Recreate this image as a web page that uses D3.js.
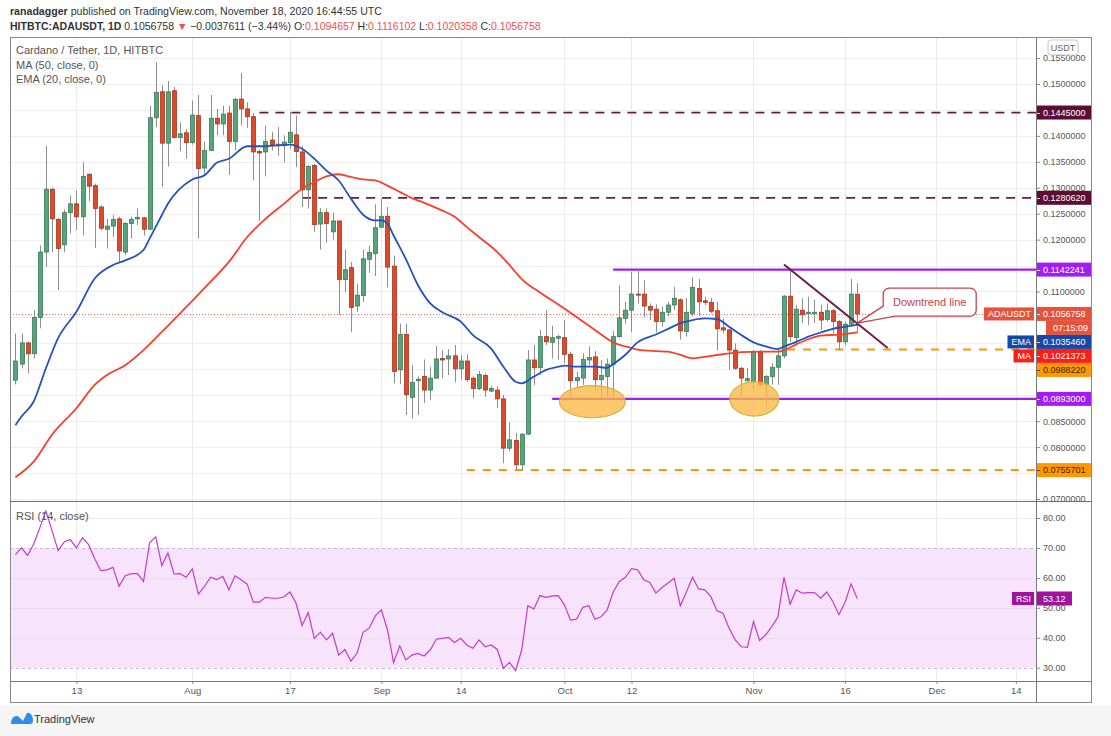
<!DOCTYPE html>
<html>
<head>
<meta charset="utf-8">
<script src="https://cdnjs.cloudflare.com/ajax/libs/d3/7.8.5/d3.min.js"></script>
<style>
body { margin: 0; background: #fff; }
text { font-family: "Liberation Sans", Arial, sans-serif; }
</style>
</head>
<body>
<div class="chart"></div>
<script>
// ---- data ----
var firstDay = '2020-07-03';

// daily candles [open, high, low, close], Jul 3 .. Nov 18 2020
var ohlc = [
    [0.0929, 0.1019, 0.0921, 0.0966], [0.0960, 0.1019, 0.0952, 0.1001], [0.1001, 0.1003, 0.0942, 0.0980],
    [0.0980, 0.1064, 0.0971, 0.1050], [0.1050, 0.1189, 0.1029, 0.1176], [0.1176, 0.1381, 0.1147, 0.1297],
    [0.1297, 0.1300, 0.1176, 0.1240], [0.1239, 0.1242, 0.1103, 0.1183], [0.1190, 0.1258, 0.1176, 0.1252],
    [0.1252, 0.1285, 0.1212, 0.1269], [0.1269, 0.1295, 0.1218, 0.1244], [0.1244, 0.1349, 0.1208, 0.1322],
    [0.1326, 0.1328, 0.1274, 0.1303], [0.1304, 0.1308, 0.1184, 0.1260], [0.1263, 0.1266, 0.1218, 0.1222],
    [0.1220, 0.1240, 0.1183, 0.1226], [0.1226, 0.1247, 0.1205, 0.1239], [0.1240, 0.1244, 0.1157, 0.1178],
    [0.1176, 0.1234, 0.1170, 0.1231], [0.1231, 0.1244, 0.1202, 0.1239], [0.1240, 0.1260, 0.1228, 0.1243],
    [0.1242, 0.1244, 0.1208, 0.1220], [0.1220, 0.1458, 0.1218, 0.1435], [0.1435, 0.1542, 0.1417, 0.1484],
    [0.1485, 0.1498, 0.1301, 0.1386], [0.1386, 0.1506, 0.1341, 0.1485], [0.1487, 0.1494, 0.1395, 0.1397],
    [0.1397, 0.1426, 0.1371, 0.1404], [0.1406, 0.1413, 0.1356, 0.1387],
    // Aug
    [0.1387, 0.1468, 0.1383, 0.1440], [0.1439, 0.1479, 0.1202, 0.1337], [0.1338, 0.1389, 0.1322, 0.1372],
    [0.1372, 0.1479, 0.1371, 0.1434], [0.1434, 0.1452, 0.1401, 0.1423], [0.1423, 0.1458, 0.1401, 0.1442],
    [0.1444, 0.1458, 0.1325, 0.1389], [0.1389, 0.1474, 0.1372, 0.1470], [0.1471, 0.1521, 0.1420, 0.1452],
    [0.1452, 0.1465, 0.1415, 0.1437], [0.1437, 0.1444, 0.1314, 0.1369], [0.1370, 0.1373, 0.1236, 0.1367],
    [0.1369, 0.1420, 0.1322, 0.1389], [0.1392, 0.1408, 0.1372, 0.1383], [0.1381, 0.1417, 0.1362, 0.1384],
    [0.1381, 0.1401, 0.1349, 0.1388], [0.1387, 0.1446, 0.1375, 0.1407], [0.1402, 0.1439, 0.1340, 0.1370],
    [0.1369, 0.1381, 0.1263, 0.1296], [0.1296, 0.1344, 0.1260, 0.1341], [0.1343, 0.1346, 0.1215, 0.1229],
    [0.1230, 0.1261, 0.1181, 0.1252], [0.1252, 0.1260, 0.1194, 0.1231], [0.1215, 0.1252, 0.1200, 0.1236],
    [0.1236, 0.1237, 0.1055, 0.1123], [0.1123, 0.1181, 0.1099, 0.1142], [0.1146, 0.1157, 0.1022, 0.1069],
    [0.1072, 0.1115, 0.1061, 0.1093], [0.1092, 0.1181, 0.1080, 0.1163], [0.1162, 0.1188, 0.1136, 0.1175],
    [0.1173, 0.1268, 0.1130, 0.1223],
    // Sep
    [0.1224, 0.1279, 0.1222, 0.1245], [0.1245, 0.1263, 0.1108, 0.1147], [0.1149, 0.1169, 0.0923, 0.0946],
    [0.0949, 0.1038, 0.0921, 0.1017], [0.1017, 0.1038, 0.0862, 0.0901], [0.0896, 0.0958, 0.0855, 0.0925],
    [0.0928, 0.0936, 0.0862, 0.0931], [0.0936, 0.0969, 0.0885, 0.0910], [0.0910, 0.0955, 0.0891, 0.0933],
    [0.0933, 0.0995, 0.0932, 0.0970], [0.0971, 0.0987, 0.0933, 0.0968], [0.0970, 0.0989, 0.0939, 0.0976],
    [0.0976, 0.0997, 0.0925, 0.0951], [0.0951, 0.0978, 0.0930, 0.0966], [0.0966, 0.0979, 0.0926, 0.0930],
    [0.0933, 0.0936, 0.0894, 0.0913], [0.0913, 0.0947, 0.0910, 0.0940], [0.0938, 0.0942, 0.0897, 0.0910],
    [0.0908, 0.0918, 0.0906, 0.0913], [0.0910, 0.0917, 0.0875, 0.0893], [0.0893, 0.0901, 0.0769, 0.0798],
    [0.0798, 0.0848, 0.0792, 0.0814], [0.0813, 0.0827, 0.0756, 0.0766], [0.0766, 0.0827, 0.0755, 0.0825],
    [0.0825, 0.0987, 0.0824, 0.0968], [0.0968, 0.0997, 0.0920, 0.0953], [0.0953, 0.1026, 0.0939, 0.1013],
    [0.1013, 0.1064, 0.0997, 0.1003], [0.1002, 0.1034, 0.0971, 0.1011], [0.1010, 0.1017, 0.0968, 0.1013],
    // Oct
    [0.1011, 0.1045, 0.0962, 0.0979], [0.0979, 0.0984, 0.0897, 0.0928], [0.0928, 0.0945, 0.0913, 0.0934],
    [0.0933, 0.0981, 0.0920, 0.0969], [0.0968, 0.0994, 0.0958, 0.0973], [0.0974, 0.0985, 0.0910, 0.0930],
    [0.0930, 0.0968, 0.0894, 0.0938], [0.0936, 0.0971, 0.0897, 0.0960], [0.0960, 0.1024, 0.0894, 0.1013],
    [0.1013, 0.1112, 0.1011, 0.1049], [0.1048, 0.1080, 0.1038, 0.1064], [0.1064, 0.1138, 0.1022, 0.1095],
    [0.1095, 0.1141, 0.1077, 0.1093], [0.1095, 0.1122, 0.1051, 0.1072], [0.1071, 0.1077, 0.1045, 0.1064],
    [0.1066, 0.1075, 0.1021, 0.1042], [0.1042, 0.1071, 0.1032, 0.1060], [0.1060, 0.1080, 0.1052, 0.1074],
    [0.1074, 0.1109, 0.1064, 0.1087], [0.1084, 0.1087, 0.1007, 0.1024], [0.1023, 0.1087, 0.1013, 0.1060],
    [0.1058, 0.1127, 0.1052, 0.1108], [0.1106, 0.1124, 0.1053, 0.1080], [0.1082, 0.1090, 0.1074, 0.1079],
    [0.1079, 0.1088, 0.1058, 0.1062], [0.1063, 0.1080, 0.0987, 0.1028], [0.1030, 0.1048, 0.1019, 0.1026],
    [0.1026, 0.1028, 0.0949, 0.0987], [0.0987, 0.1000, 0.0949, 0.0952], [0.0952, 0.0955, 0.0891, 0.0933],
    [0.0928, 0.0953, 0.0923, 0.0932],
    // Nov
    [0.0926, 0.0987, 0.0913, 0.0983], [0.0983, 0.0987, 0.0917, 0.0921], [0.0921, 0.0939, 0.0880, 0.0936],
    [0.0936, 0.0962, 0.0920, 0.0954], [0.0954, 0.0987, 0.0920, 0.0976], [0.0976, 0.1093, 0.0971, 0.1091],
    [0.1091, 0.1141, 0.1003, 0.1013], [0.1011, 0.1074, 0.0997, 0.1066], [0.1064, 0.1087, 0.1039, 0.1055],
    [0.1057, 0.1090, 0.1035, 0.1060], [0.1057, 0.1084, 0.1039, 0.1060], [0.1060, 0.1074, 0.1026, 0.1045],
    [0.1046, 0.1077, 0.1042, 0.1063], [0.1063, 0.1066, 0.1019, 0.1042], [0.1042, 0.1045, 0.0987, 0.1003],
    [0.1003, 0.1042, 0.0996, 0.1037], [0.1037, 0.1124, 0.1032, 0.1095],
    [0.1094657, 0.1116102, 0.1020358, 0.1056758]
];

// RSI(14) per day, same days as the candles
var rsi = [
    67.8, 70.0, 67.5, 71.3, 76.7, 82.3, 75.8, 69.1, 72.0, 72.8,
    70.0, 73.4, 71.1, 66.4, 62.4, 62.7, 63.5, 57.2, 60.7, 61.4,
    61.4, 58.8, 71.7, 73.7, 64.1, 68.3, 61.3, 61.4, 60.2, 63.0,
    54.6, 57.2, 60.2, 59.4, 60.5, 56.0, 60.7, 59.4, 57.9, 51.9,
    51.9, 53.5, 53.2, 53.2, 53.6, 55.3, 51.6, 44.1, 48.4, 39.8,
    41.8, 39.3, 41.5, 34.2, 36.1, 32.2, 34.8, 41.8, 43.2, 47.3,
    49.3, 42.6, 31.7, 37.3, 32.6, 34.2, 34.8, 33.9, 35.9, 39.5,
    39.8, 40.1, 38.4, 39.8, 37.6, 36.5, 39.3, 37.0, 37.6, 36.1,
    29.8, 31.8, 29.0, 35.9, 50.7, 49.6, 54.1, 53.5, 54.0, 54.1,
    51.0, 45.9, 46.2, 50.1, 50.7, 46.2, 47.0, 49.3, 55.3, 58.8,
    60.2, 63.1, 62.7, 59.4, 58.5, 54.9, 56.8, 58.3, 59.9, 50.7,
    55.3, 60.2, 56.3, 56.0, 53.8, 49.0, 48.2, 43.2, 39.3, 37.0,
    36.8, 45.4, 39.1, 41.0, 43.7, 46.9, 60.2, 51.2, 56.0, 54.9,
    55.1, 55.1, 53.2, 55.3, 52.1, 47.7, 51.8, 58.0, 53.12
];

// EMA(20) and MA(50) read at sample days
var emaPts = [
    ['2020-07-03', 0.0842], ['2020-07-04', 0.0859], ['2020-07-06', 0.0888], ['2020-07-08', 0.0952],
    ['2020-07-10', 0.1010], ['2020-07-13', 0.1061], ['2020-07-16', 0.1125], ['2020-07-19', 0.1151],
    ['2020-07-21', 0.1160], ['2020-07-24', 0.1180], ['2020-07-25', 0.1202], ['2020-07-27', 0.1247],
    ['2020-07-28', 0.1269], ['2020-08-01', 0.1316], ['2020-08-03', 0.1324], ['2020-08-05', 0.1348],
    ['2020-08-07', 0.1356], ['2020-08-10', 0.1380], ['2020-08-13', 0.1380], ['2020-08-17', 0.1383],
    ['2020-08-19', 0.1375], ['2020-08-21', 0.1356], ['2020-08-23', 0.1333], ['2020-08-25', 0.1314],
    ['2020-08-27', 0.1279], ['2020-08-29', 0.1248], ['2020-08-31', 0.1237], ['2020-09-01', 0.1237],
    ['2020-09-02', 0.1231], ['2020-09-03', 0.1208], ['2020-09-05', 0.1163], ['2020-09-07', 0.1112],
    ['2020-09-09', 0.1077], ['2020-09-11', 0.1060], ['2020-09-14', 0.1042], ['2020-09-16', 0.1016],
    ['2020-09-19', 0.0990], ['2020-09-21', 0.0955], ['2020-09-23', 0.0926], ['2020-09-24', 0.0923],
    ['2020-09-26', 0.0936], ['2020-09-28', 0.0949], ['2020-09-30', 0.0955], ['2020-10-01', 0.0957],
    ['2020-10-03', 0.0955], ['2020-10-06', 0.0955], ['2020-10-08', 0.0953], ['2020-10-09', 0.0960],
    ['2020-10-11', 0.0978], ['2020-10-13', 0.1002], ['2020-10-16', 0.1017], ['2020-10-18', 0.1028],
    ['2020-10-20', 0.1039], ['2020-10-22', 0.1045], ['2020-10-24', 0.1048], ['2020-10-26', 0.1047],
    ['2020-10-28', 0.1032], ['2020-10-30', 0.1016], ['2020-11-01', 0.1002], ['2020-11-03', 0.0994],
    ['2020-11-05', 0.0989], ['2020-11-06', 0.0994], ['2020-11-08', 0.1003], ['2020-11-10', 0.1013],
    ['2020-11-12', 0.1021], ['2020-11-14', 0.1028], ['2020-11-16', 0.1032], ['2020-11-18', 0.1035460]
];
var maPts = [
    ['2020-07-03', 0.0742], ['2020-07-06', 0.0772], ['2020-07-09', 0.0824], ['2020-07-13', 0.0875],
    ['2020-07-16', 0.0920], ['2020-07-18', 0.0939], ['2020-07-21', 0.0958], ['2020-07-24', 0.0987],
    ['2020-07-27', 0.1022], ['2020-07-30', 0.1058], ['2020-08-01', 0.1082], ['2020-08-04', 0.1119],
    ['2020-08-07', 0.1157], ['2020-08-10', 0.1205], ['2020-08-13', 0.1240], ['2020-08-16', 0.1269],
    ['2020-08-19', 0.1298], ['2020-08-21', 0.1311], ['2020-08-23', 0.1322], ['2020-08-25', 0.1326],
    ['2020-08-27', 0.1321], ['2020-08-29', 0.1316], ['2020-08-31', 0.1314], ['2020-09-02', 0.1304],
    ['2020-09-04', 0.1292], ['2020-09-06', 0.1280], ['2020-09-08', 0.1271], ['2020-09-11', 0.1256],
    ['2020-09-13', 0.1244], ['2020-09-15', 0.1224], ['2020-09-17', 0.1205], ['2020-09-20', 0.1176],
    ['2020-09-22', 0.1151], ['2020-09-24', 0.1124], ['2020-09-27', 0.1098], ['2020-09-30', 0.1075],
    ['2020-10-03', 0.1051], ['2020-10-06', 0.1026], ['2020-10-09', 0.1002], ['2020-10-11', 0.0994],
    ['2020-10-13', 0.0988], ['2020-10-16', 0.0985], ['2020-10-18', 0.0984], ['2020-10-20', 0.0978],
    ['2020-10-22', 0.0971], ['2020-10-24', 0.0974], ['2020-10-27', 0.0979], ['2020-10-30', 0.0983],
    ['2020-11-02', 0.0984], ['2020-11-05', 0.0984], ['2020-11-06', 0.0987], ['2020-11-08', 0.0998],
    ['2020-11-10', 0.1008], ['2020-11-12', 0.1015], ['2020-11-15', 0.1017], ['2020-11-18', 0.1021373]
];

// horizontal levels drawn on the chart and the day each one starts
var levelPrices = [0.1445, 0.1280620, 0.1142241, 0.0893, 0.0988220, 0.0755701];
var levelFrom = ['2020-08-12', '2020-08-19', '2020-10-09', '2020-09-29', '2020-11-06T12:00Z', '2020-09-15'];

// downtrend line end points, ellipse marks [centre day, centre price, half days, half price]
var trendPts = [['2020-11-06', 0.1152], ['2020-11-23', 0.0991]];
var ellipses = [['2020-10-05T14:00Z', 0.08876, 5.4, 0.0031], ['2020-11-01T03:00Z', 0.08928, 4.0, 0.0033]];
var calloutAt = ['2020-11-18', 0.1039];
var calloutText = 'Downtrend line';

// axis ticks
var priceTicks = [0.070, 0.075, 0.080, 0.085, 0.090, 0.095, 0.100, 0.105, 0.110, 0.115,
    0.120, 0.125, 0.130, 0.135, 0.140, 0.145, 0.150, 0.155];
var rsiTicks = [30, 40, 50, 60, 70, 80];
var timeTicks = ['2020-07-13', '2020-08-01', '2020-08-17', '2020-09-01', '2020-09-14', '2020-10-01',
    '2020-10-12', '2020-11-01', '2020-11-16', '2020-12-01', '2020-12-14'];
var timeLabels = ['13', 'Aug', '17', 'Sep', '14', 'Oct', '12', 'Nov', '16', 'Dec', '14'];

var lastPrice = 0.1056758, emaLast = 0.1035460, maLast = 0.1021373;

// ---- layout ----
var W = 1111, H = 736;
var L = 10, R = 1036, FR = 1092, T = 37, PB = 501, RB = 681, FB = 703;

var svg = d3.select('.chart')
    .append('svg')
    .attr('width', W)
    .attr('height', H)
    .style('display', 'block');

svg.append('rect').attr('width', W).attr('height', H).attr('fill', '#fff');
svg.append('rect').attr('x', 0).attr('y', 705).attr('width', W).attr('height', H - 705).attr('fill', '#f5f5f5');

var parse = s => new Date(s.length > 10 ? s : s + 'T00:00:00Z');
var days = d3.utcDay.range(parse(firstDay), d3.utcDay.offset(parse(firstDay), ohlc.length));
var bars = ohlc.map((r, i) => ({date: days[i], o: r[0], h: r[1], l: r[2], c: r[3], rsi: rsi[i]}));

var x = d3.scaleUtc()
    .domain([Date.UTC(2020, 6, 2, 2, 45), Date.UTC(2020, 11, 17, 7, 30)])
    .range([L, R]);
var y = d3.scaleLinear().domain([0.069614, 0.15906]).range([PB, T]);
var yr = d3.scaleLinear().domain([25.56, 85.68]).range([RB, PB]);

var defs = svg.append('defs');
defs.append('clipPath').attr('id', 'pricePane')
    .append('rect').attr('x', L).attr('y', T).attr('width', R - L).attr('height', PB - T);
defs.append('clipPath').attr('id', 'priceAxis')
    .append('rect').attr('x', R).attr('y', T).attr('width', FR - R).attr('height', PB - T);
defs.append('clipPath').attr('id', 'rsiPane')
    .append('rect').attr('x', L).attr('y', PB).attr('width', R - L).attr('height', RB - PB);

// header
var head1 = svg.append('text').attr('x', 10).attr('y', 15).attr('font-size', 10.6).attr('fill', '#333');
head1.append('tspan').attr('font-weight', 'bold').text('ranadagger');
head1.append('tspan').text(' published on TradingView.com, November 18, 2020 16:44:55 UTC');

var red = '#f0514e';
var head2 = svg.append('text').attr('x', 10).attr('y', 30).attr('font-size', 10.5).attr('fill', '#333');
[['HITBTC:ADAUSDT, 1D', '#333', 'bold'], [' 0.1056758 ', '#333'], ['\u25BC', red],
    [' \u22120.0037611 (\u22123.44%) O:', '#333'], ['0.1094657', red], [' H:', '#333'], ['0.1116102', red],
    [' L:', '#333'], ['0.1020358', red], [' C:', '#333'], ['0.1056758', red]
].forEach(p => {
    head2.append('tspan').attr('fill', p[1]).attr('font-weight', p[2] || null).text(p[0]);
});

// grid
var grid = svg.append('g');
grid.selectAll('line.h')
    .data(priceTicks.filter(v => y(v) > T && y(v) < PB))
    .join('line')
    .attr('x1', L).attr('x2', R)
    .attr('y1', d => Math.round(y(d)) + 0.5).attr('y2', d => Math.round(y(d)) + 0.5)
    .attr('stroke', '#eeeeee');
grid.selectAll('line.v')
    .data(timeTicks)
    .join('line')
    .attr('x1', d => Math.round(x(parse(d))) + 0.5).attr('x2', d => Math.round(x(parse(d))) + 0.5)
    .attr('y1', T).attr('y2', RB)
    .attr('stroke', '#ebebeb');

// RSI pane background
var rsiG = svg.append('g').attr('clip-path', 'url(#rsiPane)');
rsiG.append('rect')
    .attr('x', L).attr('width', R - L)
    .attr('y', yr(70)).attr('height', yr(30) - yr(70))
    .attr('fill', '#f7e3fb');
rsiG.selectAll('line.g')
    .data([40, 50, 60, 80])
    .join('line')
    .attr('x1', L).attr('x2', R)
    .attr('y1', d => Math.round(yr(d)) + 0.5).attr('y2', d => Math.round(yr(d)) + 0.5)
    .attr('stroke', d => d === 80 ? '#ececec' : '#eadcee');
rsiG.selectAll('line.b')
    .data([70, 30])
    .join('line')
    .attr('x1', L).attr('x2', R)
    .attr('y1', d => Math.round(yr(d)) + 0.5).attr('y2', d => Math.round(yr(d)) + 0.5)
    .attr('stroke', '#cbb7cf')
    .attr('stroke-dasharray', '3,3');
rsiG.append('path')
    .datum(bars)
    .attr('d', d3.line().x(d => x(d.date)).y(d => yr(d.rsi)))
    .attr('fill', 'none')
    .attr('stroke', '#c53bd0')
    .attr('stroke-width', 1.2);

// price pane
var pane = svg.append('g').attr('clip-path', 'url(#pricePane)');

var levelStyle = [
    {stroke: '#6b1b44', dash: '9,7', w: 1.8},
    {stroke: '#6b1b44', dash: '9,7', w: 1.8},
    {stroke: '#a21cf4', dash: null, w: 2.4},
    {stroke: '#a21cf4', dash: null, w: 2.4},
    {stroke: '#ff9800', dash: '8,8', w: 2},
    {stroke: '#ff9800', dash: '8,8', w: 2}
];
levelPrices.forEach((p, i) => {
    pane.append('line')
        .attr('x1', x(parse(levelFrom[i]))).attr('x2', R)
        .attr('y1', y(p)).attr('y2', y(p))
        .attr('stroke', levelStyle[i].stroke)
        .attr('stroke-width', levelStyle[i].w)
        .attr('stroke-dasharray', levelStyle[i].dash);
});

// last price dotted line
pane.append('line')
    .attr('x1', L).attr('x2', R)
    .attr('y1', Math.round(y(lastPrice)) + 0.5).attr('y2', Math.round(y(lastPrice)) + 0.5)
    .attr('stroke', '#ef6a55')
    .attr('stroke-dasharray', '1,2');

// candles
var cg = pane.selectAll('g.candle')
    .data(bars)
    .join('g')
    .attr('class', 'candle');
cg.append('line')
    .attr('x1', d => Math.round(x(d.date)) + 0.5).attr('x2', d => Math.round(x(d.date)) + 0.5)
    .attr('y1', d => y(d.h)).attr('y2', d => y(d.l))
    .attr('stroke', '#8e8e8e');
cg.append('rect')
    .attr('x', d => Math.round(x(d.date)) - 1.5)
    .attr('width', 4)
    .attr('y', d => y(Math.max(d.o, d.c)))
    .attr('height', d => Math.max(1, Math.abs(y(d.o) - y(d.c))))
    .attr('fill', d => d.c >= d.o ? '#55a47a' : '#dc4a2c')
    .attr('stroke', d => d.c >= d.o ? '#3e7c5a' : '#a9351f')
    .attr('stroke-width', 0.8);

// moving averages
var avgLine = d3.line().x(d => x(parse(d[0]))).y(d => y(d[1])).curve(d3.curveMonotoneX);
pane.append('path').datum(maPts).attr('d', avgLine)
    .attr('fill', 'none').attr('stroke', '#f7402b').attr('stroke-width', 1.8);
pane.append('path').datum(emaPts).attr('d', avgLine)
    .attr('fill', 'none').attr('stroke', '#2552bf').attr('stroke-width', 1.8);

// ellipses
var dayMs = 864e5;
ellipses.forEach(e => {
    var c = parse(e[0]);
    pane.append('ellipse')
        .attr('cx', x(c)).attr('cy', y(e[1]))
        .attr('rx', x(new Date(+c + e[2] * dayMs)) - x(c))
        .attr('ry', y(e[1] - e[3]) - y(e[1]))
        .attr('fill', '#fbb845').attr('fill-opacity', 0.78)
        .attr('stroke', '#d7b23c').attr('stroke-width', 1.2);
});

// downtrend line
pane.append('line')
    .attr('x1', x(parse(trendPts[0][0]))).attr('y1', y(trendPts[0][1]))
    .attr('x2', x(parse(trendPts[1][0]))).attr('y2', y(trendPts[1][1]))
    .attr('stroke', '#6d1f45').attr('stroke-width', 2);

// callout
var tipX = x(parse(calloutAt[0])), tipY = y(calloutAt[1]);
var bl = tipX + 26, bt = tipY - 35, bw = 93, bh = 28, rr = 6;
var br = bl + bw, bb = bt + bh;
svg.append('path')
    .attr('d', 'M' + (bl + rr) + ',' + bt + 'H' + (br - rr) + 'A' + rr + ',' + rr + ' 0 0 1 ' + br + ',' + (bt + rr) +
        'V' + (bb - rr) + 'A' + rr + ',' + rr + ' 0 0 1 ' + (br - rr) + ',' + bb +
        'H' + (bl + 12) + 'L' + tipX + ',' + tipY + 'L' + bl + ',' + (bb - 10) +
        'V' + (bt + rr) + 'A' + rr + ',' + rr + ' 0 0 1 ' + (bl + rr) + ',' + bt + 'Z')
    .attr('fill', '#fff').attr('stroke', '#c4434e').attr('stroke-width', 1.3);
svg.append('text')
    .attr('x', bl + bw / 2).attr('y', bt + bh / 2 + 4)
    .attr('text-anchor', 'middle').attr('font-size', 11).attr('fill', '#c4434e')
    .text(calloutText);

// legends
var legend = svg.append('g').attr('font-size', 11).attr('fill', '#555');
legend.append('text').attr('x', 16).attr('y', 54).text('Cardano / Tether, 1D, HITBTC');
legend.append('text').attr('x', 16).attr('y', 69).text('MA (50, close, 0)');
legend.append('text').attr('x', 16).attr('y', 83).text('EMA (20, close, 0)');
legend.append('text').attr('x', 16).attr('y', 520).text('RSI (14, close)');

// axes
var lab = {h: 14};
var axisLabels = [
    {v: levelPrices[0], bg: '#5c0d33', fg: '#fff'},
    {v: levelPrices[1], bg: '#5c0d33', fg: '#fff'},
    {v: levelPrices[2], bg: '#a21cf4', fg: '#fff'},
    {v: lastPrice, bg: '#e5533d', fg: '#fff', tag: 'ADAUSDT'},
    {v: lastPrice, bg: '#e5533d', fg: '#fff', text: '07:15:09', key: 0.5, off: lab.h, x0: R + 10},
    {v: emaLast, bg: '#1848a6', fg: '#fff', tag: 'EMA'},
    {v: maLast, bg: '#fc1e17', fg: '#fff', tag: 'MA'},
    {v: levelPrices[4], bg: '#ff9800', fg: '#3a2600'},
    {v: levelPrices[3], bg: '#a21cf4', fg: '#fff'},
    {v: levelPrices[5], bg: '#ff9800', fg: '#3a2600'}
];
axisLabels.forEach(l => {
    l.y = y(l.v) + (l.off || 0);
    l.k = y(l.v) + (l.key || 0);
});
axisLabels.sort((a, b) => a.k - b.k);
var bottom = -Infinity;
axisLabels.forEach(l => {
    if (l.y - lab.h / 2 < bottom) l.y = bottom + lab.h / 2;
    bottom = l.y + lab.h / 2;
});

var fmt = d3.format('.7f');
var priceAxis = svg.append('g')
    .attr('clip-path', 'url(#priceAxis)')
    .append('g')
    .attr('transform', 'translate(' + R + ',0)')
    .call(d3.axisRight(y).tickValues(priceTicks).tickSize(4).tickPadding(3).tickFormat(fmt));
priceAxis.select('.domain').remove();
priceAxis.selectAll('line').attr('stroke', '#888');
priceAxis.selectAll('text').attr('fill', '#555').attr('font-size', 9).attr('font-family', null)
    .attr('display', d => axisLabels.some(l => Math.abs(l.y - y(d)) < 7) ? 'none' : null);

var rsiAxis = svg.append('g')
    .attr('transform', 'translate(' + R + ',0)')
    .call(d3.axisRight(yr).tickValues(rsiTicks).tickSize(4).tickPadding(3).tickFormat(d3.format('.2f')));
rsiAxis.select('.domain').remove();
rsiAxis.selectAll('line').attr('stroke', '#888');
rsiAxis.selectAll('text').attr('fill', '#555').attr('font-size', 9).attr('font-family', null);

var timeAxis = svg.append('g')
    .attr('transform', 'translate(0,' + RB + ')')
    .call(d3.axisBottom(x).tickValues(timeTicks.map(parse)).tickSize(3).tickPadding(3)
        .tickFormat((d, i) => timeLabels[i]));
timeAxis.select('.domain').remove();
timeAxis.selectAll('line').attr('stroke', '#888');
timeAxis.selectAll('text').attr('fill', '#555').attr('font-size', 9.5).attr('font-family', null);

// price axis labels
var labG = svg.append('g').attr('clip-path', 'url(#priceAxis)');
axisLabels.forEach(l => {
    var x0 = l.x0 || R;
    labG.append('rect')
        .attr('x', x0).attr('y', l.y - lab.h / 2).attr('width', FR - x0).attr('height', lab.h)
        .attr('fill', l.bg);
    if (!l.text) {
        labG.append('line')
            .attr('x1', R).attr('x2', R + 4).attr('y1', Math.round(l.y) + 0.5).attr('y2', Math.round(l.y) + 0.5)
            .attr('stroke', l.fg).attr('stroke-opacity', 0.8);
    }
    labG.append('text')
        .attr('x', l.text ? FR - 4 : R + 7).attr('y', l.y + 3.2)
        .attr('text-anchor', l.text ? 'end' : 'start')
        .attr('font-size', 9).attr('fill', l.fg)
        .text(l.text || fmt(l.v));
    if (l.tag) {
        var t = svg.append('text')
            .attr('x', R - 5).attr('y', l.y + 3.2)
            .attr('text-anchor', 'end').attr('font-size', 9).attr('fill', '#fff')
            .text(l.tag);
        var tw = t.node().getComputedTextLength();
        svg.insert('rect', function () { return t.node(); })
            .attr('x', R - 9 - tw).attr('y', l.y - lab.h / 2 + 0.5).attr('width', tw + 7).attr('height', lab.h - 1)
            .attr('fill', l.bg);
    }
});

// RSI value label
var rsiLast = rsi[rsi.length - 1];
var ry0 = yr(rsiLast);
svg.append('rect').attr('x', R).attr('y', ry0 - lab.h / 2).attr('width', 36).attr('height', lab.h).attr('fill', '#a0139f');
svg.append('text').attr('x', R + 7).attr('y', ry0 + 3.2).attr('font-size', 9).attr('fill', '#fff').text(d3.format('.2f')(rsiLast));
var rt = svg.append('text').attr('x', R - 5).attr('y', ry0 + 3.2).attr('text-anchor', 'end')
    .attr('font-size', 9).attr('fill', '#fff').text('RSI');
var rtw = rt.node().getComputedTextLength();
svg.insert('rect', function () { return rt.node(); })
    .attr('x', R - 9 - rtw).attr('y', ry0 - lab.h / 2 + 0.5).attr('width', rtw + 7).attr('height', lab.h - 1)
    .attr('fill', '#a0139f');

// USDT badge
svg.append('rect').attr('x', 1048).attr('y', 40).attr('width', 30).attr('height', 15).attr('rx', 3)
    .attr('fill', '#fff').attr('stroke', '#c8c8c8');
svg.append('text').attr('x', 1063).attr('y', 51).attr('text-anchor', 'middle')
    .attr('font-size', 9).attr('fill', '#666').text('USDT');

// frame
var frame = svg.append('g').attr('fill', 'none');
frame.append('rect').attr('x', L + 0.5).attr('y', T + 0.5).attr('width', FR - L - 1).attr('height', FB - T - 1)
    .attr('stroke', '#8a8a8a');
frame.append('line').attr('x1', L).attr('x2', FR).attr('y1', PB + 0.5).attr('y2', PB + 0.5).attr('stroke', '#6e6e6e');
frame.append('line').attr('x1', L).attr('x2', FR).attr('y1', RB + 0.5).attr('y2', RB + 0.5).attr('stroke', '#7a7a7a');
frame.append('line').attr('x1', R + 0.5).attr('x2', R + 0.5).attr('y1', T).attr('y2', FB).attr('stroke', '#7a7a7a');

// footer logo
svg.append('path')
    .attr('d', 'M11,724 C11,718 15,714 19,717 L23,721 L27,713 C30,712 33,716 33,720 C33,723 32,724 30,724 Z')
    .attr('fill', '#2d8fe8');
svg.append('text').attr('x', 34).attr('y', 723).attr('font-size', 11).attr('fill', '#333').text('TradingView');
</script>
</body>
</html>
